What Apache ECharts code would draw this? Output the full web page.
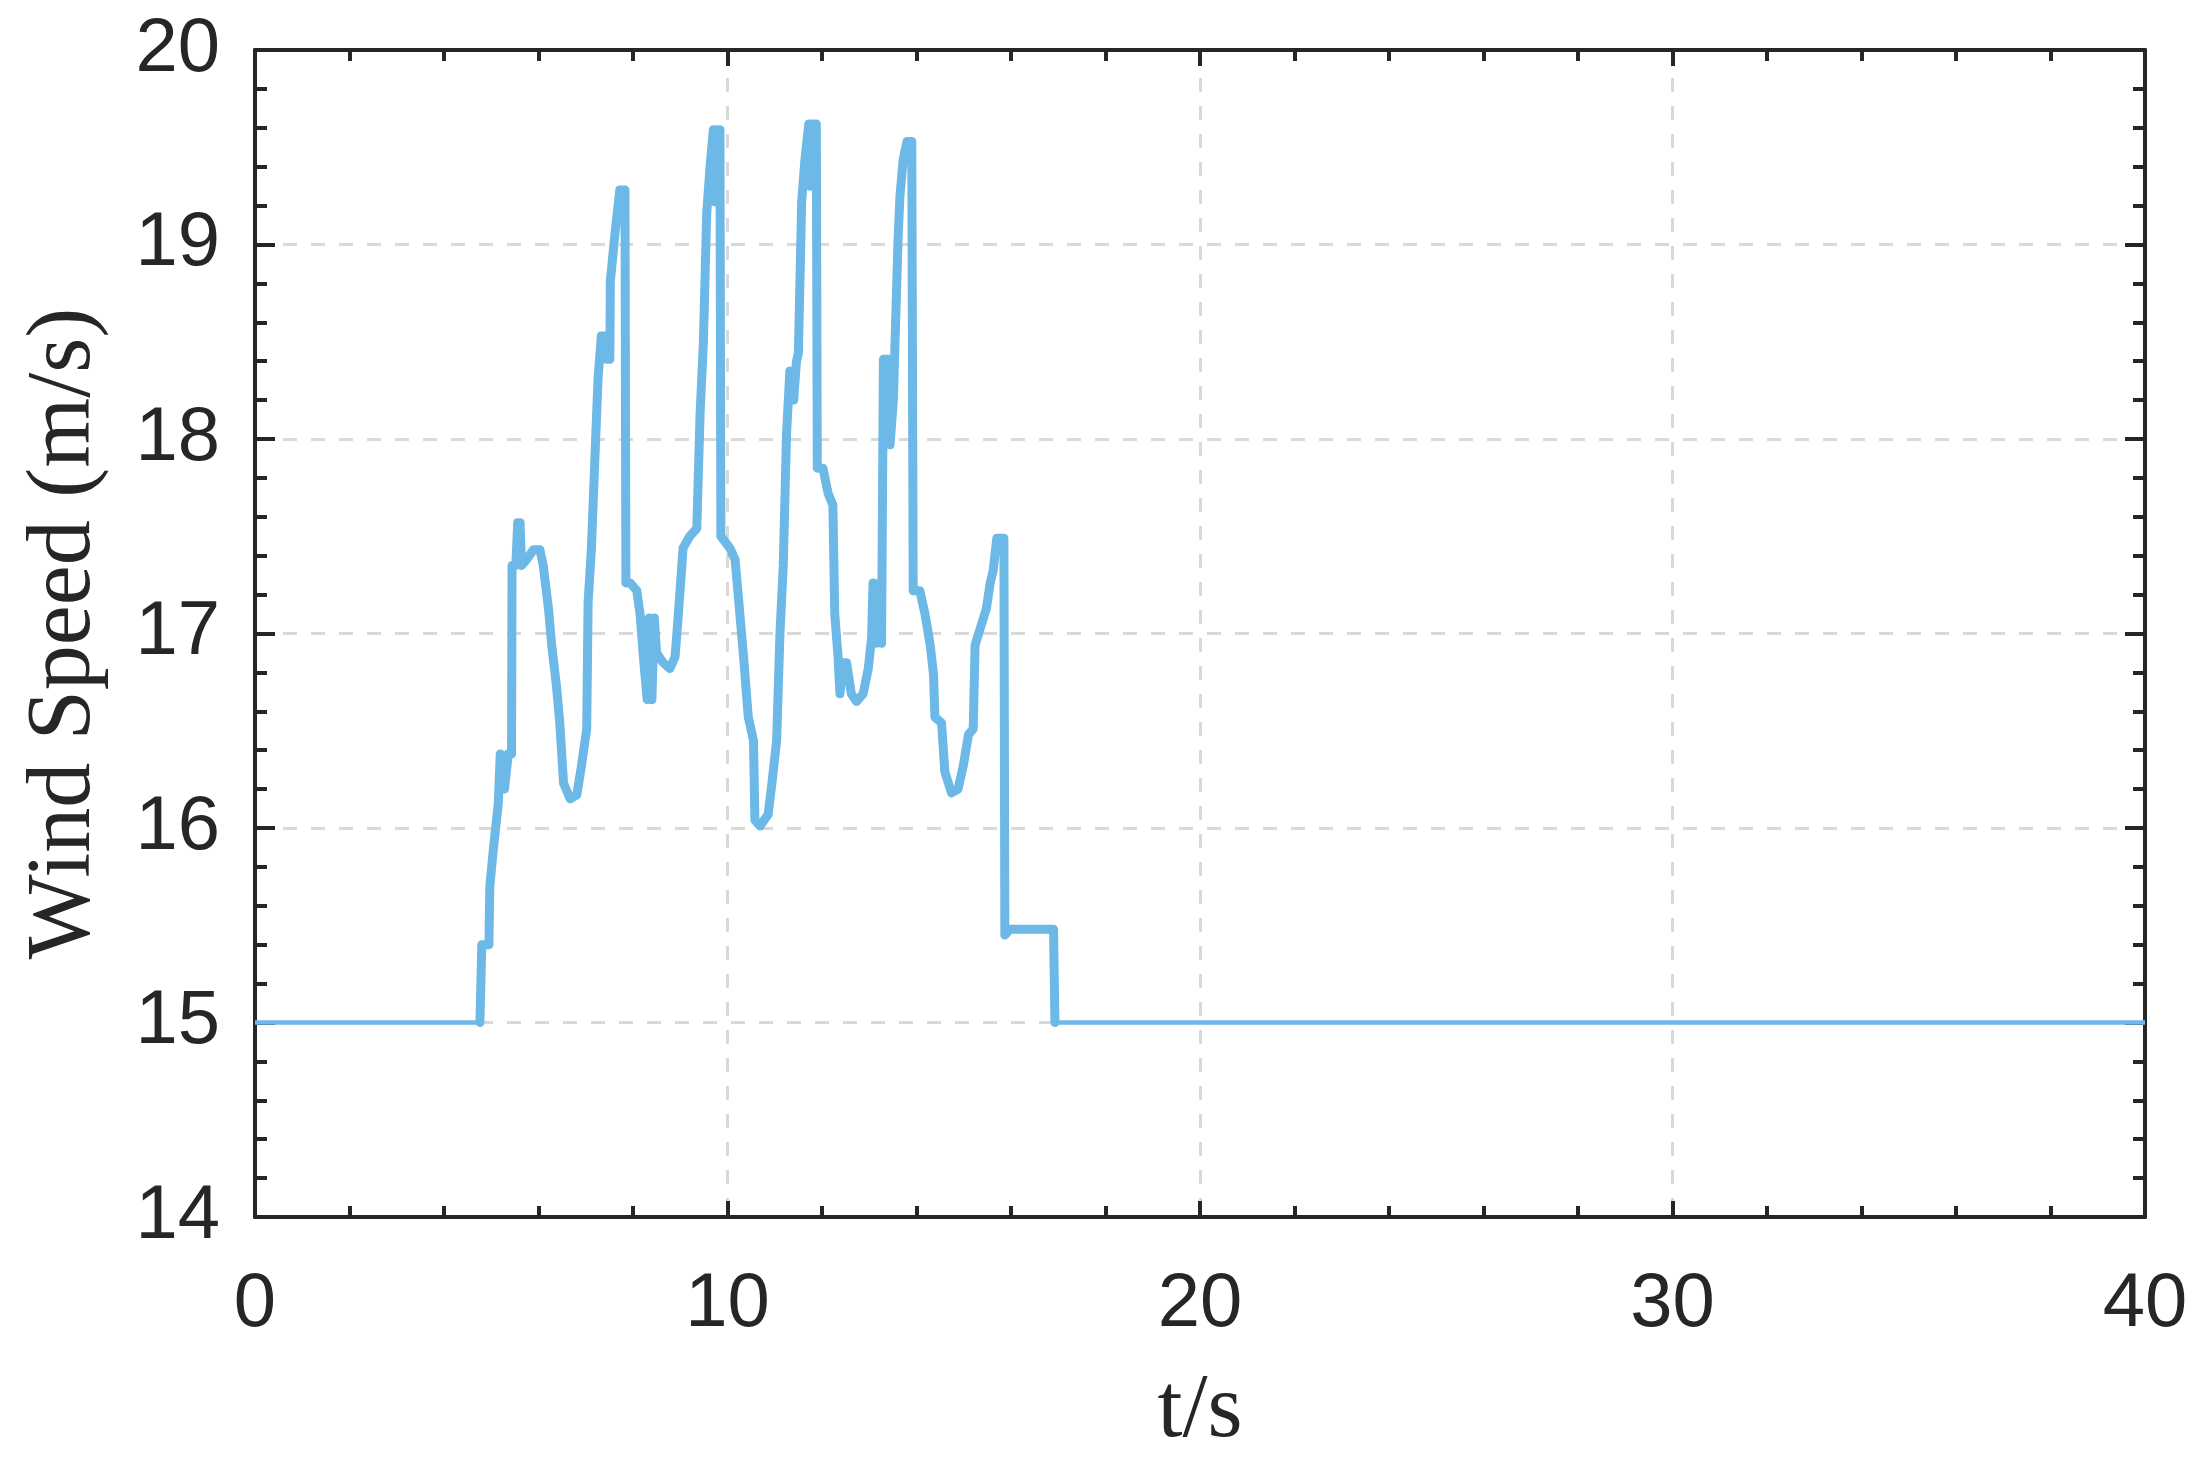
<!DOCTYPE html>
<html>
<head>
<meta charset="utf-8">
<script src="https://cdn.jsdelivr.net/npm/echarts@6/dist/echarts.min.js"></script>
<style>
html,body{margin:0;padding:0;background:#fff;}
#chart{width:2197px;height:1466px;}
</style>
</head>
<body>
<div id="chart"></div>
<script>
const timeValues = [0, 4.76, 4.80, 4.95, 4.97, 5.04, 5.15, 5.19, 5.28, 5.36, 5.43, 5.44, 5.52, 5.56, 5.61, 5.64, 5.75, 5.89, 6.03, 6.10, 6.21, 6.28, 6.38, 6.45, 6.53, 6.67, 6.81, 6.91, 7.02, 7.05, 7.12, 7.19, 7.26, 7.33, 7.42, 7.45, 7.51, 7.52, 7.62, 7.72, 7.83, 7.85, 7.94, 8.08, 8.15, 8.22, 8.30, 8.34, 8.40, 8.45, 8.50, 8.64, 8.78, 8.89, 8.96, 9.06, 9.20, 9.35, 9.42, 9.49, 9.56, 9.63, 9.70, 9.73, 9.77, 9.84, 9.86, 10.05, 10.16, 10.23, 10.34, 10.44, 10.55, 10.58, 10.69, 10.86, 10.94, 11.04, 11.11, 11.18, 11.25, 11.32, 11.40, 11.46, 11.50, 11.57, 11.64, 11.72, 11.75, 11.80, 11.88, 11.90, 12.02, 12.13, 12.23, 12.27, 12.34, 12.38, 12.45, 12.52, 12.62, 12.73, 12.87, 12.98, 13.05, 13.08, 13.15, 13.22, 13.26, 13.30, 13.40, 13.44, 13.51, 13.61, 13.65, 13.72, 13.80, 13.90, 13.93, 14.07, 14.18, 14.29, 14.36, 14.39, 14.53, 14.60, 14.74, 14.88, 14.99, 15.10, 15.20, 15.24, 15.38, 15.48, 15.56, 15.62, 15.70, 15.85, 15.87, 15.98, 16.90, 16.93, 40];
const windSpeed = [15.00, 15.00, 15.40, 15.40, 15.70, 15.88, 16.13, 16.38, 16.20, 16.38, 16.38, 17.35, 17.35, 17.57, 17.57, 17.35, 17.38, 17.43, 17.43, 17.35, 17.13, 16.94, 16.73, 16.54, 16.23, 16.15, 16.17, 16.32, 16.51, 17.16, 17.44, 17.88, 18.31, 18.53, 18.53, 18.41, 18.41, 18.81, 19.06, 19.28, 19.28, 17.26, 17.26, 17.22, 17.10, 16.88, 16.66, 17.08, 16.66, 17.08, 16.90, 16.85, 16.82, 16.88, 17.10, 17.44, 17.50, 17.54, 18.13, 18.50, 19.16, 19.40, 19.59, 19.22, 19.59, 19.59, 17.50, 17.44, 17.38, 17.19, 16.88, 16.57, 16.45, 16.04, 16.01, 16.07, 16.23, 16.45, 17.00, 17.35, 18.03, 18.35, 18.20, 18.40, 18.44, 19.22, 19.44, 19.62, 19.30, 19.62, 19.62, 17.85, 17.85, 17.72, 17.66, 17.10, 16.88, 16.69, 16.85, 16.85, 16.69, 16.65, 16.69, 16.82, 16.98, 17.26, 16.95, 17.26, 16.95, 18.41, 18.41, 17.97, 18.20, 19.03, 19.25, 19.44, 19.53, 19.53, 17.22, 17.22, 17.10, 16.94, 16.79, 16.57, 16.54, 16.29, 16.18, 16.20, 16.32, 16.48, 16.51, 16.94, 17.05, 17.13, 17.26, 17.32, 17.49, 17.49, 15.45, 15.48, 15.48, 15.00, 15.00];
const xTicks = [0, 10, 20, 30, 40];
const yTicks = [14, 15, 16, 17, 18, 19, 20];

const seriesData = timeValues.map((t, i) => [t, windSpeed[i]]);
// gust section (between the flat 15 m/s segments), drawn with a heavier stroke
const gustData = seriesData.slice(1, seriesData.length - 1);
const axisColor = '#262626';
const lineColor = '#6cb8e6';
const gridDash = {color: '#d9d9d9', width: 3, type: [14, 14]};

const chart = echarts.init(document.getElementById('chart'), null, {renderer: 'canvas'});
const baseX = {
  type: 'value', min: xTicks[0], max: xTicks[xTicks.length - 1], interval: 10,
  axisLine: {show: true, onZero: false, lineStyle: {color: axisColor, width: 4}},
  axisTick: {show: true, inside: true, length: 16, lineStyle: {color: axisColor, width: 4}},
  minorTick: {show: true, splitNumber: 5, length: 11, lineStyle: {color: axisColor, width: 4}},
};
const baseY = {
  type: 'value', min: yTicks[0], max: yTicks[yTicks.length - 1], interval: 1,
  axisLine: {show: true, onZero: false, lineStyle: {color: axisColor, width: 4}},
  axisTick: {show: true, inside: true, length: 20, lineStyle: {color: axisColor, width: 4}},
  minorTick: {show: true, splitNumber: 5, length: 12, lineStyle: {color: axisColor, width: 4}},
};
chart.setOption({
  backgroundColor: '#ffffff',
  animation: false,
  grid: {left: 255, right: 52, top: 50, bottom: 249, containLabel: false},
  xAxis: [
    Object.assign({}, baseX, {
      position: 'bottom',
      name: 't/s', nameLocation: 'middle', nameGap: 150,
      nameTextStyle: {fontFamily: 'Liberation Serif', fontSize: 90, color: axisColor},
      axisLabel: {show: true, fontFamily: 'Liberation Sans', fontSize: 76, color: axisColor, margin: 50},
      splitLine: {show: true, lineStyle: gridDash},
    }),
    Object.assign({}, baseX, {
      position: 'top',
      axisLabel: {show: false},
      splitLine: {show: false},
    })
  ],
  yAxis: [
    Object.assign({}, baseY, {
      position: 'left',
      name: 'Wind Speed (m/s)', nameLocation: 'middle', nameGap: 145, nameRotate: 90,
      nameTextStyle: {fontFamily: 'Liberation Serif', fontSize: 90, color: axisColor},
      axisLabel: {show: true, fontFamily: 'Liberation Sans', fontSize: 76, color: axisColor, margin: 35},
      splitLine: {show: true, lineStyle: gridDash},
    }),
    Object.assign({}, baseY, {
      position: 'right',
      axisLabel: {show: false},
      splitLine: {show: false},
    })
  ],
  series: [{
    type: 'line',
    data: seriesData,
    xAxisIndex: 0, yAxisIndex: 0,
    showSymbol: false,
    symbol: 'none',
    lineStyle: {color: lineColor, width: 4.5, join: 'round'},
    z: 3
  }, {
    type: 'line',
    data: gustData,
    xAxisIndex: 0, yAxisIndex: 0,
    showSymbol: false,
    symbol: 'none',
    lineStyle: {color: lineColor, width: 9, join: 'round', cap: 'round'},
    z: 4
  }]
});
</script>
</body>
</html>
